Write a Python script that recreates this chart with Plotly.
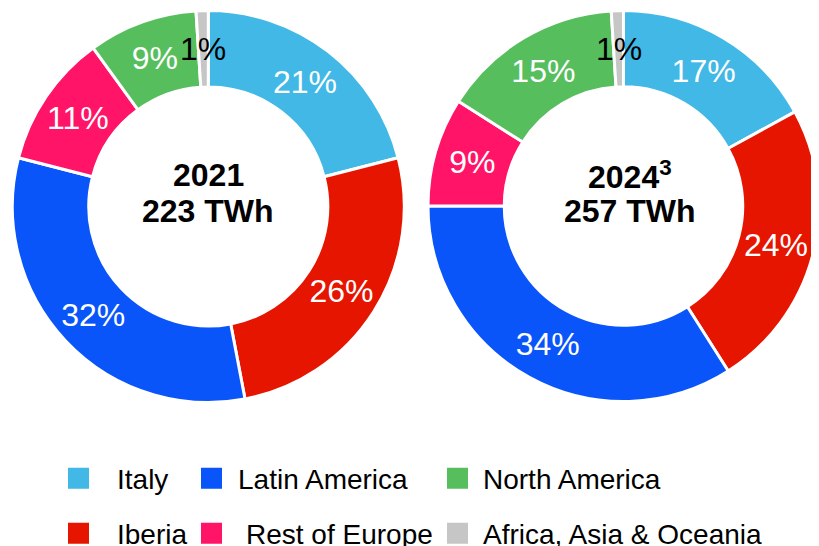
import math
import plotly.graph_objects as go

# ---- data ----
categories = ["Italy", "Iberia", "Latin America", "Rest of Europe",
              "North America", "Africa, Asia & Oceania"]
share_2021 = [21, 26, 32, 11, 9, 1]
share_2024 = [17, 24, 34, 9, 15, 1]
year_labels = ["2021", "2024<sup>3</sup>"]
total_labels = ["223 TWh", "257 TWh"]
legend_rows = [["Italy", "Latin America", "North America"],
               ["Iberia", "Rest of Europe", "Africa, Asia & Oceania"]]

# ---- style / geometry ----
FONT = "Liberation Sans, Arial, Helvetica, sans-serif"
OFF = 8                      # default page body margin
FW, FH = 819 - OFF, 546 - OFF  # figure size so the page fits the window


def px(x):
    return (x - OFF) / FW


def py(y):
    return 1 - (y - OFF) / FH


colors = {
    "Italy": "#41B8E5",
    "Iberia": "#E61500",
    "Latin America": "#0A55FA",
    "Rest of Europe": "#FF1467",
    "North America": "#57BE5E",
    "Africa, Asia & Oceania": "#C6C6C6",
}
HOLE = 0.61
PCT_SIZE = 32
small = [False, False, False, False, False, True]   # thin slices labelled mid-ring

domains = [
    dict(x=[px(12.3), px(404.3)], y=[py(402.5), py(10.5)]),
    dict(x=[px(428), 1.0], y=[py(402), py(10)]),
]
title_dx = [0, 6]  # px shift of centre text

fig = go.Figure()
annotations = []
for i, (vals, dom) in enumerate(zip([share_2021, share_2024], domains)):
    fig.add_trace(go.Pie(
        labels=categories, values=vals, sort=False, direction="clockwise",
        rotation=0, hole=HOLE, domain=dom,
        marker=dict(colors=[colors[c] for c in categories],
                    line=dict(color="white", width=3)),
        textinfo="percent",
        textposition=["none" if s else "inside" for s in small],
        insidetextorientation="horizontal",
        insidetextfont=dict(family=FONT, size=PCT_SIZE, color="white"),
        showlegend=False, hoverinfo="label+percent",
    ))
    # labels of the thin slices, placed mid-ring on the slice bisector
    total = sum(vals)
    wpx = (dom["x"][1] - dom["x"][0]) * FW
    hpx = (dom["y"][1] - dom["y"][0]) * FH
    R = min(wpx, hpx) / 2
    rmid = R * (1 + HOLE) / 2
    cx = (dom["x"][0] + dom["x"][1]) / 2
    cy = (dom["y"][0] + dom["y"][1]) / 2
    for j, v in enumerate(vals):
        if not small[j]:
            continue
        theta = 2 * math.pi * (sum(vals[:j]) + v / 2) / total
        annotations.append(dict(
            x=cx + rmid * math.sin(theta) / FW, y=cy + rmid * math.cos(theta) / FH,
            xref="paper", yref="paper", showarrow=False,
            text=f"{round(100 * v / total)}%", xanchor="center", yanchor="middle",
            font=dict(family=FONT, size=PCT_SIZE, color="black")))
    # centre texts
    tx = cx + title_dx[i] / FW
    annotations.append(dict(x=tx, y=cy + 31 / FH, xref="paper", yref="paper",
                            text="<b>" + year_labels[i] + "</b>", showarrow=False,
                            xanchor="center", yanchor="middle",
                            font=dict(family=FONT, size=32, color="black")))
    annotations.append(dict(x=tx, y=cy - 5 / FH, xref="paper", yref="paper",
                            text="<b>" + total_labels[i] + "</b>", showarrow=False,
                            xanchor="center", yanchor="middle",
                            font=dict(family=FONT, size=32, color="black")))

# legend: one legend per entry so the columns can be placed like the original
legend_geom = {
    # name: (left px, centre y px, itemwidth)
    "Italy": (40, 478.5, 67),
    "Iberia": (40, 533.5, 67),
    "Latin America": (185, 478.5, 43),
    "Rest of Europe": (177, 533.5, 59),
    "North America": (432, 478.5, 41),
    "Africa, Asia & Oceania": (432, 533.5, 41),
}
legend_layout = {}
k = 0
for row in legend_rows:
    for name in row:
        k += 1
        lid = "legend" if k == 1 else f"legend{k}"
        fig.add_trace(go.Scatter(
            x=[None], y=[None], mode="markers", name=name, legend=lid,
            marker=dict(symbol="square", size=16, color=colors[name],
                        line=dict(color=colors[name], width=5)),
            hoverinfo="skip",
        ))
        left, cyp, iw = legend_geom[name]
        legend_layout[lid] = dict(
            x=px(left), y=py(cyp), xanchor="left", yanchor="middle",
            orientation="v", itemwidth=iw, bgcolor="rgba(0,0,0,0)",
            borderwidth=0, font=dict(family=FONT, size=28, color="black"),
            itemclick=False, itemdoubleclick=False,
        )

fig.update_layout(
    width=FW, height=FH,
    margin=dict(l=0, r=0, t=0, b=0, autoexpand=False),
    paper_bgcolor="white", plot_bgcolor="white",
    font=dict(family=FONT),
    uniformtext=dict(minsize=PCT_SIZE, mode="show"),
    xaxis=dict(visible=False), yaxis=dict(visible=False),
    annotations=annotations,
    showlegend=True,
    **legend_layout,
)

fig.write_html("out.html")
